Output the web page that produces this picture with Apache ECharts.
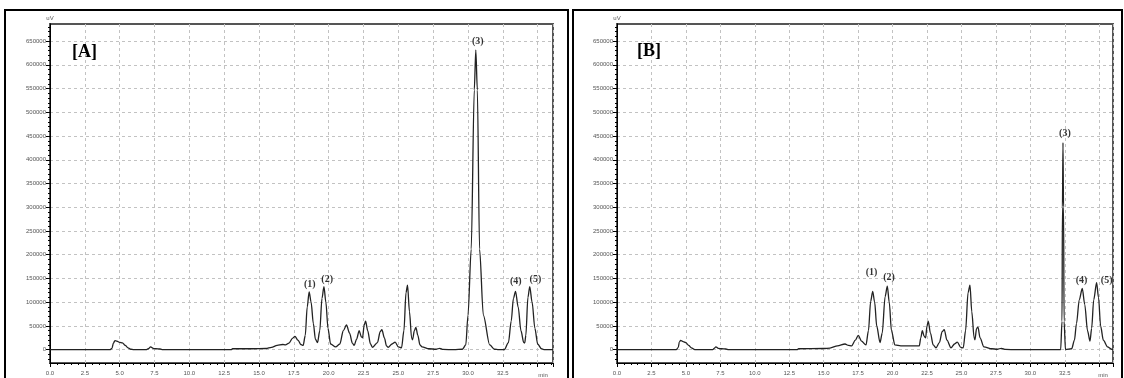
<!DOCTYPE html>
<html>
<head>
<meta charset="utf-8">
<script src="https://cdn.jsdelivr.net/npm/echarts@6.0.0/dist/echarts.min.js"></script>
<style>
html, body { margin: 0; padding: 0; background: #fff; }
#main { width: 1124px; height: 378px; }
</style>
</head>
<body>
<div id="main"></div>
<script>
var chartDom = document.getElementById('main');
var myChart = echarts.init(chartDom);
var option;

// y axis ticks (uV)
var yTicks = [0, 50000, 100000, 150000, 200000, 250000, 300000, 350000, 400000, 450000, 500000, 550000, 600000, 650000];
var yMin = -28000;
var yMax = 686000;

// chromatogram A: [time (min), signal (uV)]
var traceA = [
  [0, 0], [4.3, 0], [4.45, 3000], [4.55, 14000], [4.66, 19000], [4.8, 18000], [5.0, 15500], [5.2, 14500],
  [5.4, 9000], [5.6, 4000], [5.8, 1000], [6.0, 0], [6.9, 0], [7.05, 2000], [7.22, 6000], [7.4, 3000],
  [7.6, 2000], [7.9, 1500], [8.1, 0], [13.0, 0], [13.1, 2000], [14.5, 2000], [15.5, 2500], [15.9, 5000],
  [16.3, 9000], [16.7, 11000], [16.9, 10000], [17.15, 14000], [17.4, 24000], [17.58, 28000], [17.8, 20000],
  [18.0, 11000], [18.17, 9000], [18.32, 30000], [18.46, 90000], [18.6, 122000], [18.74, 100000], [18.9, 55000],
  [19.05, 22000], [19.2, 15000], [19.36, 40000], [19.52, 108000], [19.66, 133000], [19.8, 100000], [19.95, 45000],
  [20.14, 12000], [20.5, 6000], [20.8, 12000], [21.05, 40000], [21.28, 52000], [21.5, 35000], [21.7, 14000],
  [21.83, 9000], [22.0, 22000], [22.19, 40000], [22.35, 27000], [22.43, 25000], [22.55, 52000], [22.65, 60000],
  [22.8, 40000], [23.0, 12000], [23.15, 5000], [23.5, 15000], [23.7, 38000], [23.82, 42000], [24.0, 25000],
  [24.15, 8000], [24.27, 5000], [24.55, 12000], [24.77, 16000], [25.0, 6000], [25.23, 4000], [25.4, 40000],
  [25.55, 120000], [25.66, 136000], [25.8, 80000], [25.95, 25000], [26.02, 21000], [26.15, 40000], [26.26, 47000],
  [26.4, 30000], [26.55, 10000], [26.7, 6000], [27.2, 2000], [27.7, 1000], [27.98, 3000], [28.2, 500],
  [29.0, 0], [29.6, 1000], [29.84, 10000], [30.0, 73000], [30.23, 212000], [30.45, 547000], [30.56, 631000],
  [30.67, 547000], [30.83, 212000], [31.1, 73000], [31.56, 10000], [31.9, 1000], [32.2, 0], [32.6, 0],
  [32.9, 15000], [33.1, 60000], [33.26, 108000], [33.41, 123000], [33.6, 90000], [33.8, 40000], [34.0, 15000],
  [34.07, 14000], [34.15, 30000], [34.3, 110000], [34.43, 133000], [34.6, 100000], [34.8, 45000], [35.0, 12000],
  [35.27, 2000], [35.5, 0], [36.1, 0]
];

// chromatogram B
var traceB = [
  [0, 0], [4.3, 0], [4.45, 5000], [4.52, 16000], [4.62, 19500], [4.8, 17000], [5.0, 15000], [5.2, 9000],
  [5.4, 4000], [5.65, 0], [6.95, 0], [7.05, 3000], [7.18, 6000], [7.35, 3000], [7.6, 2000], [7.9, 1500],
  [8.1, 0], [13.1, 0], [13.16, 2000], [15.0, 2500], [15.46, 3500], [16.0, 8000], [16.55, 12000], [16.8, 9000],
  [17.03, 8000], [17.3, 20000], [17.51, 30000], [17.75, 18000], [18.07, 10000], [18.25, 40000], [18.41, 102000],
  [18.56, 123000], [18.7, 100000], [18.85, 50000], [19.09, 15000], [19.25, 35000], [19.46, 112000],
  [19.62, 134000], [19.76, 100000], [19.92, 40000], [20.17, 10000], [20.6, 8000], [21.94, 8000], [22.05, 25000],
  [22.16, 40000], [22.3, 28000], [22.4, 25000], [22.5, 50000], [22.59, 60000], [22.75, 35000], [22.95, 10000],
  [23.15, 4000], [23.4, 15000], [23.6, 38000], [23.75, 42500], [23.95, 20000], [24.24, 4000], [24.5, 12000],
  [24.7, 16000], [24.95, 5000], [25.13, 4000], [25.3, 40000], [25.48, 120000], [25.62, 136000], [25.75, 80000],
  [25.92, 25000], [25.98, 21000], [26.1, 45000], [26.2, 47500], [26.35, 25000], [26.63, 6000], [27.2, 2000],
  [27.6, 1000], [27.9, 3000], [28.2, 500], [29.0, 0], [32.2, 0], [32.3, 60000], [32.33, 300000],
  [32.37, 436000], [32.41, 300000], [32.45, 60000], [32.55, 0], [33.0, 2000], [33.2, 20000], [33.35, 55000],
  [33.55, 105000], [33.77, 129000], [33.95, 95000], [34.15, 40000], [34.33, 18000], [34.45, 45000],
  [34.6, 105000], [34.81, 141000], [34.95, 110000], [35.1, 50000], [35.3, 20000], [35.6, 6000], [35.9, 1000],
  [36.0, 0]
];

// peak labels [time, signal, text]
var peaksA = [[18.65, 138000, '(1)'], [19.89, 148000, '(2)'], [30.7, 648500, '(3)'], [33.43, 143700, '(4)'], [34.84, 148000, '(5)']];
var peaksB = [[18.48, 162500, '(1)'], [19.74, 151500, '(2)'], [32.51, 455500, '(3)'], [33.72, 145000, '(4)'], [35.54, 146000, '(5)']];

var yMinor = [];
for (var v = -20000; v <= 680000; v += 10000) {
  if (v % 50000 !== 0) yMinor.push(v);
}

var gridLine = { show: true, lineStyle: { color: '#c2c2c2', width: 1, type: [3, 3] } };
var txt = '#555';

function xAxisFor(i, xMax) {
  return {
    type: 'value', gridIndex: i, min: 0, max: xMax, interval: 2.5,
    axisLine: { onZero: false, lineStyle: { color: '#000', width: 1 } },
    axisTick: { length: 4, lineStyle: { color: '#000' } },
    minorTick: { show: true, splitNumber: 5, length: 2, lineStyle: { color: '#000' } },
    minorSplitLine: { show: false },
    splitLine: gridLine,
    axisLabel: {
      fontSize: 6, color: txt, margin: 7, showMaxLabel: false,
      formatter: function (v) {
        if (v >= 35 || Math.abs(v / 2.5 - Math.round(v / 2.5)) > 1e-6) return '';
        return v.toFixed(1);
      }
    },
    name: 'min', nameLocation: 'end', nameGap: -10,
    nameTextStyle: { fontSize: 6, color: txt, align: 'center', verticalAlign: 'top', padding: [9, 0, 0, 0] }
  };
}

function yAxesFor(i) {
  return [{
    type: 'value', gridIndex: i, min: yMin, max: yMax, position: 'left',
    axisLine: { show: true, onZero: false, lineStyle: { color: '#000', width: 1 } },
    axisTick: { show: true, customValues: yTicks, length: 4, lineStyle: { color: '#000' } },
    axisLabel: { customValues: yTicks, fontSize: 6, color: txt, margin: 4, formatter: function (v) { return String(v); } },
    splitLine: gridLine,
    name: 'uV', nameLocation: 'end', nameGap: 3,
    nameTextStyle: { fontSize: 6, color: txt, align: 'center' }
  }, {
    type: 'value', gridIndex: i, min: yMin, max: yMax, position: 'left', offset: 0,
    axisLine: { show: true, onZero: false, lineStyle: { color: '#000', width: 1 } },
    axisTick: { show: true, customValues: yMinor, length: 2, lineStyle: { color: '#000' } },
    axisLabel: { show: false },
    splitLine: { show: false }
  }];
}

function traceSeries(i, yIdx, data) {
  return {
    type: 'line', xAxisIndex: i, yAxisIndex: yIdx, data: data,
    showSymbol: false, symbol: 'none', clip: true,
    smooth: 0.3, smoothMonotone: 'x',
    lineStyle: { color: '#222', width: 1.3 }
  };
}

function labelSeries(i, yIdx, data) {
  return {
    type: 'scatter', xAxisIndex: i, yAxisIndex: yIdx, data: data,
    symbolSize: 0, silent: true,
    label: {
      show: true, position: 'inside', color: '#000',
      fontFamily: 'Liberation Serif', fontWeight: 'bold', fontSize: 10,
      formatter: function (p) { return p.data[2]; }
    }
  };
}

option = {
  animation: false,
  backgroundColor: '#fff',
  title: [
    { text: '[A]', left: 72, top: 43, padding: 0, textStyle: { fontFamily: 'Liberation Serif', fontWeight: 'bold', fontSize: 18, color: '#000' } },
    { text: '[B]', left: 637, top: 42, padding: 0, textStyle: { fontFamily: 'Liberation Serif', fontWeight: 'bold', fontSize: 18, color: '#000' } }
  ],
  graphic: [
    { type: 'rect', shape: { x: 5, y: 10, width: 563, height: 380 }, style: { fill: 'none', stroke: '#000', lineWidth: 2 }, silent: true },
    { type: 'rect', shape: { x: 573, y: 10, width: 549, height: 380 }, style: { fill: 'none', stroke: '#000', lineWidth: 2 }, silent: true }
  ],
  grid: [
    { left: 50, top: 24, width: 503, bottom: 13, show: true, borderColor: '#555', borderWidth: 2, backgroundColor: 'transparent' },
    { left: 617, top: 24, width: 496, bottom: 13, show: true, borderColor: '#555', borderWidth: 2, backgroundColor: 'transparent' }
  ],
  xAxis: [xAxisFor(0, 36.1), xAxisFor(1, 36.0)],
  yAxis: yAxesFor(0).concat(yAxesFor(1)),
  series: [
    traceSeries(0, 0, traceA),
    labelSeries(0, 0, peaksA),
    traceSeries(1, 2, traceB),
    labelSeries(1, 2, peaksB)
  ]
};

option && myChart.setOption(option);
</script>
</body>
</html>
